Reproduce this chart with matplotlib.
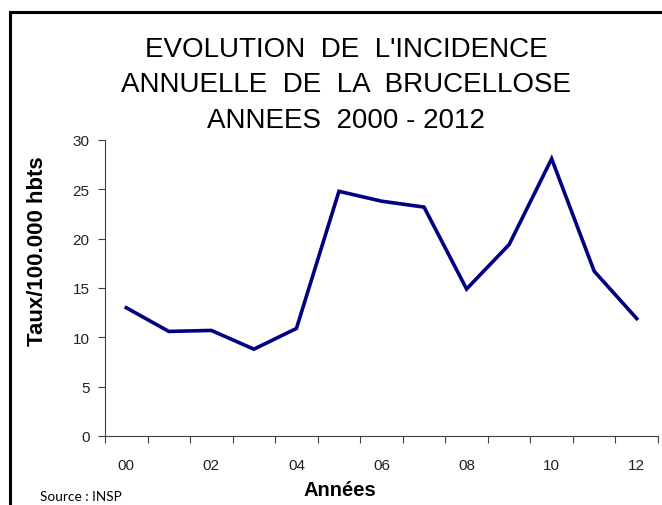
import matplotlib
matplotlib.use("Agg")
import matplotlib.pyplot as plt
from matplotlib.patches import Rectangle
import numpy as np

years = ["00", "01", "02", "03", "04", "05", "06", "07", "08", "09", "10", "11", "12"]
values = [13.0, 10.6, 10.7, 8.8, 10.9, 24.8, 23.8, 23.2, 14.9, 19.4, 28.1, 16.7, 11.9]
yticks = [0, 5, 10, 15, 20, 25, 30]

plt.rcParams['font.family'] = ['Liberation Sans', 'DejaVu Sans']

fig = plt.figure(figsize=(6.62, 5.06), dpi=100)
# frame
fig.patches.append(Rectangle((10/662, -0.1), 1.2, 1 - 13/506 + 0.1, transform=fig.transFigure,
                             fill=False, edgecolor='black', linewidth=2.2))

ax = fig.add_axes([105/662, 1 - 437/506, (658 - 105)/662, (437 - 141)/506])
x = np.arange(len(years))
ax.plot(x, values, color='#000080', linewidth=2.6, solid_joinstyle='miter')

ax.set_xlim(-0.5, len(years) - 0.5)
ax.set_ylim(0, 30)
ax.set_yticks(yticks)
ax.set_yticklabels([str(v) for v in yticks], fontsize=11, color='#222222')
ax.set_xticks(x[::2])
ax.set_xticklabels(years[::2], fontsize=11, color='#222222')
ax.set_xticks(np.arange(-0.5, len(years), 1.0), minor=True)
ax.tick_params(axis='x', which='major', length=0, pad=16)
ax.tick_params(axis='x', which='minor', length=5, width=0.8, color='#404040', direction='out')
ax.tick_params(axis='y', length=5, width=0.8, color='#404040', direction='out', pad=6)
for s in ['top', 'right']:
    ax.spines[s].set_visible(False)
for s in ['left', 'bottom']:
    ax.spines[s].set_color('#404040')
    ax.spines[s].set_linewidth(0.8)

fig.text(38/662, 1 - 251/506, "Taux/100.000 hbts", fontsize=16, fontweight='bold',
         rotation=90, ha='center', va='center')
fig.text(340/662, 1 - 491/506, "Années", fontsize=14.5, fontweight='bold', ha='center', va='center')
fig.text(40/662, 1 - 497/506, "Source : INSP", fontsize=9.8, ha='left', va='center',
         family=['Lato', 'DejaVu Sans'])

title_lines = ["EVOLUTION  DE  L'INCIDENCE", "ANNUELLE  DE  LA  BRUCELLOSE", "ANNEES  2000 - 2012"]
for i, line in enumerate(title_lines):
    fig.text(346/662, 1 - (50 + i*35.5)/506, line, fontsize=20, ha='center', va='center')

fig.savefig("out.png", dpi=100)
